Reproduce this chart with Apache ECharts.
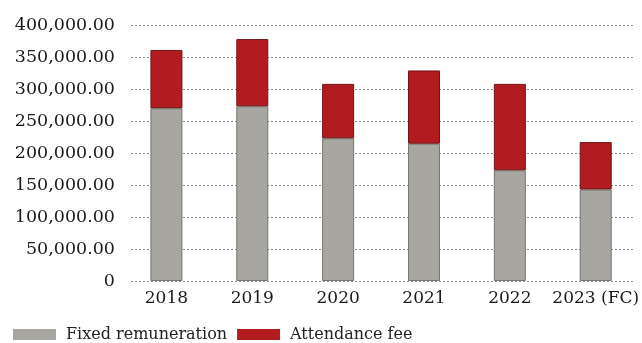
<!DOCTYPE html>
<html>
<head>
<meta charset="utf-8">
<script src="https://cdn.jsdelivr.net/npm/echarts@6/dist/echarts.min.js"></script>
<style>
  html, body { margin: 0; padding: 0; background: #fff; }
  #chart { width: 642px; height: 343px; }
</style>
</head>
<body>
<div id="chart"></div>
<script>
// Board remuneration by year (stacked)
const years = ['2018', '2019', '2020', '2021', '2022', '2023 (FC)'];
const fixedRemuneration = [270000, 273000, 223000, 214500, 173000, 143000];
const attendanceFee = [91000, 105000, 85000, 114500, 135000, 74000];
const yTicks = [0, 50000, 100000, 150000, 200000, 250000, 300000, 350000, 400000];

const FONT = 'DejaVu Serif';
const fmt = v => v === 0 ? '0' : v.toLocaleString('en-US', { minimumFractionDigits: 2, maximumFractionDigits: 2 });

const chart = echarts.init(document.getElementById('chart'), null, { renderer: 'canvas' });

chart.setOption({
  animation: false,
  backgroundColor: '#ffffff',
  textStyle: { fontFamily: FONT },
  grid: [
    // bars and category labels
    { left: 123.5, right: 2.5, top: 25, bottom: 62, containLabel: false },
    // value axis labels and dotted guides
    { left: 131, right: 9, top: 25, bottom: 62, containLabel: false }
  ],
  legend: {
    left: 13,
    top: 324.5,
    padding: 0,
    itemWidth: 43,
    itemHeight: 11,
    itemGap: 10,
    icon: 'rect',
    textStyle: { fontFamily: FONT, fontSize: 16, lineHeight: 20, color: '#222', padding: [0, 0, 0, 5] },
    data: [
      { name: 'Fixed remuneration', itemStyle: { borderWidth: 0 } },
      { name: 'Attendance fee', itemStyle: { borderWidth: 0 } }
    ]
  },
  xAxis: [
    {
      type: 'category', gridIndex: 0, data: years,
      axisLine: { show: false }, axisTick: { show: false },
      axisLabel: { interval: 0, fontFamily: FONT, fontSize: 17, color: '#1a1a1a', margin: 9 }
    },
    {
      type: 'category', gridIndex: 1, data: years,
      show: false
    }
  ],
  yAxis: [
    {
      type: 'value', gridIndex: 0, min: 0, max: 400000, interval: 50000,
      show: false, splitLine: { show: false }
    },
    {
      type: 'value', gridIndex: 1, min: yTicks[0], max: yTicks[yTicks.length - 1], interval: 50000,
      axisLine: { show: false }, axisTick: { show: false },
      axisLabel: { fontFamily: FONT, fontSize: 17.5, color: '#1a1a1a', margin: 16, formatter: fmt },
      splitLine: { show: true, lineStyle: { color: '#8a8a8a', width: 1, type: [2, 2] } }
    }
  ],
  series: [
    {
      name: 'Fixed remuneration', type: 'bar', stack: 'total',
      xAxisIndex: 0, yAxisIndex: 0, barWidth: 32,
      itemStyle: { color: '#a7a6a1', borderColor: '#76756f', borderWidth: 1 },
      data: fixedRemuneration
    },
    {
      name: 'Attendance fee', type: 'bar', stack: 'total',
      xAxisIndex: 0, yAxisIndex: 0, barWidth: 32,
      itemStyle: { color: '#b21c20', borderColor: '#6e1416', borderWidth: 1 },
      data: attendanceFee
    }
  ]
});
</script>
</body>
</html>
